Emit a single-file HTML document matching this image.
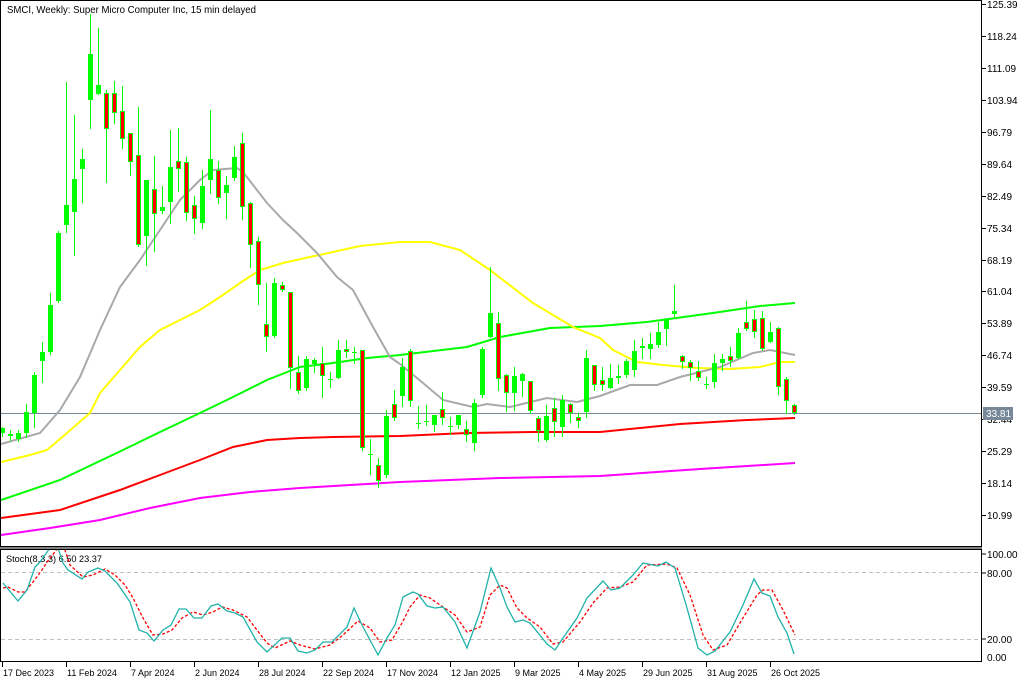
<!DOCTYPE html>
<html><head><meta charset="utf-8"><style>
html,body{margin:0;padding:0;background:#fff;}
svg{display:block;font-family:"Liberation Sans","DejaVu Sans",sans-serif;}
</style></head><body>
<svg id="s" width="1024" height="683" xmlns="http://www.w3.org/2000/svg">
<rect width="1024" height="683" fill="#fff"/>
<defs>
<clipPath id="mc"><rect x="1" y="1" width="980" height="545"/></clipPath>
<clipPath id="sc"><rect x="1" y="550" width="980" height="111"/></clipPath>
</defs>
<rect x="0.5" y="0.5" width="981" height="546" fill="none" stroke="#000"/>
<rect x="0.5" y="549.5" width="981" height="112" fill="none" stroke="#000"/>
<line x1="0" y1="548" x2="982" y2="548" stroke="#000"/>
<text x="7" y="13" font-size="10.5" fill="#000" textLength="249" lengthAdjust="spacingAndGlyphs">SMCI, Weekly:  Super Micro Computer Inc, 15 min delayed</text>
<g id="axis" font-size="10" fill="#000"></g>
<line x1="1" y1="413.5" x2="981" y2="413.5" stroke="#778899" stroke-width="1"/>
<g clip-path="url(#mc)" fill="none" stroke-width="2">
<polyline stroke="#ff00ff" points="1,535 50,528 100,520 150,508 200,498 250,492 300,488 400,482 500,478 600,476 700,469 795,463"/>
<polyline stroke="#ff0000" points="1,518 60,510 120,490 160,475 200,460 233,447 267,440 300,438 333,437 400,436 467,433 533,432 600,432 680,424 747,420 795,418"/>
<polyline stroke="#00ff00" points="1,500 60,480 123,450 160,432 200,413 233,397 267,380 300,367 333,363 367,358 400,355 467,347 500,337 550,328 600,326 647,322 713,313 760,306 795,303"/>
<polyline stroke="#ffff00" points="1,462 30,455 47,450 67,433 90,413 100,393 120,370 140,347 160,330 180,320 200,310 220,297 240,283 260,270 283,263 310,257 333,252 360,246 400,242 430,242 460,250 490,270 533,303 573,327 600,338 613,350 637,362 663,365 697,368 730,369 760,367 780,362 795,362"/>
<polyline stroke="#a9a9a9" points="1,444 40,433 60,410 80,377 100,330 120,287 140,260 160,230 180,200 200,180 213,170 237,168 243,172 267,203 283,220 297,233 317,253 337,277 353,290 373,327 390,357 400,364 423,383 443,400 473,407 487,404 510,407 547,398 577,402 600,396 630,385 657,385 680,377 720,367 753,353 770,350 795,355"/>
<g id="candles"></g>
</g>
<rect x="983" y="407" width="30" height="13" fill="#778899"/>
<text x="986" y="417" font-size="10" fill="#fff">33.81</text>
<text x="6" y="562" font-size="9.5" fill="#000" textLength="96" lengthAdjust="spacingAndGlyphs">Stoch(8,3,3) 6.50 23.37</text>
<line x1="1" y1="572.5" x2="981" y2="572.5" stroke="#c0c0c0" stroke-dasharray="4,3"/>
<line x1="1" y1="639.5" x2="981" y2="639.5" stroke="#c0c0c0" stroke-dasharray="4,3"/>
<g clip-path="url(#sc)" fill="none">
<polyline stroke="#ff0000" stroke-width="1.3" stroke-dasharray="3,2" points="3,588 8,587 18,592 25,592 33,582 42,570 47,562 58,548 65,550 70,565 83,577 93,575 105,569 115,575 125,585 133,598 143,618 153,635 163,634 172,630 182,618 193,612 203,615 213,612 222,607 233,610 247,617 257,630 267,643 275,648 290,641 300,645 315,649 330,645 343,635 358,621 370,628 380,642 392,640 402,623 410,607 420,595 430,598 443,607 455,615 467,632 480,627 490,595 500,585 507,588 517,608 527,618 540,627 553,644 563,642 580,622 593,603 607,588 620,587 633,582 647,565 667,564 677,568 690,595 703,635 713,650 727,645 740,623 757,595 763,590 772,590 783,610 795,635"/>
<polyline stroke="#20b2aa" stroke-width="1.3" points="3,583 18,601 27,590 35,567 40,562 50,548 58,548 63,563 68,570 82,579 88,572 98,568 105,571 117,583 130,602 139,630 147,633 154,641 163,630 171,625 179,609 186,609 194,618 202,618 211,606 218,604 227,611 235,613 243,617 257,642 267,652 282,638 290,638 298,651 307,653 315,650 323,642 332,642 347,627 354,608 362,625 370,640 378,655 387,638 395,625 403,597 413,592 418,594 427,606 435,608 443,607 455,622 467,648 480,612 491,568 500,588 507,607 515,622 523,620 530,623 547,644 555,650 563,638 577,618 587,598 603,581 611,590 620,588 633,575 643,563 658,566 666,562 675,568 687,608 698,648 707,655 715,651 730,632 743,605 754,579 762,593 770,596 778,617 787,633 794,654"/>
</g>
<g font-size="10" fill="#000">
<line x1="982" y1="554" x2="986" y2="554" stroke="#000"/><text x="987" y="558">100.00</text>
<line x1="982" y1="573" x2="986" y2="573" stroke="#000"/><text x="987" y="577">80.00</text>
<line x1="982" y1="639" x2="986" y2="639" stroke="#000"/><text x="987" y="643">20.00</text>
<text x="987" y="661">0.00</text>
</g>
<g id="dates" font-size="9" fill="#000"></g>
</svg>
<script>
var NS="http://www.w3.org/2000/svg";
function el(t,a,p,txt){var e=document.createElementNS(NS,t);for(var k in a)e.setAttribute(k,a[k]);if(txt)e.textContent=txt;p.appendChild(e);return e;}
var ax=document.getElementById('axis');
var labs=["125.39","118.24","111.09","103.94","96.79","89.64","82.49","75.34","68.19","61.04","53.89","46.74","39.59","32.44","25.29","18.14","10.99"];
labs.forEach(function(l,i){var y=Math.round(4+i*31.94);el('line',{x1:982,y1:y+0.5,x2:986,y2:y+0.5,stroke:'#000'},ax);el('text',{x:987,y:y+4},ax,l);});
var d=document.getElementById('dates');
var dl=[[2,"17 Dec 2023"],[66,"11 Feb 2024"],[130,"7 Apr 2024"],[194,"2 Jun 2024"],[258,"28 Jul 2024"],[322,"22 Sep 2024"],[386,"17 Nov 2024"],[450,"12 Jan 2025"],[514,"9 Mar 2025"],[578,"4 May 2025"],[642,"29 Jun 2025"],[706,"31 Aug 2025"],[770,"26 Oct 2025"]];
dl.forEach(function(a){el('line',{x1:a[0]+0.5,y1:662,x2:a[0]+0.5,y2:667,stroke:'#000'},d);el('text',{x:a[0]+1,y:676},d,a[1]);});
var C=[[428,433,427,436,1],[434,436,430,440,0],[433,439,430,441,1],[412,433,404,437,1],[375,413,372,427,1],[352,361,342,382,1],[305,352,293,354,1],[233,301,231,302,1],[205,225,82,232,1],[179,212,115,255,1],[159,169,149,202,1],[54,100,14,128,1],[85,94,28,94,1],[93,129,90,182,0],[93,113,81,123,0],[111,139,86,148,0],[133,162,133,175,0],[155,245,107,246,0],[180,236,180,265,1],[189,214,156,251,0],[207,211,186,213,1],[167,202,130,223,1],[161,169,128,191,0],[162,213,157,220,0],[205,219,196,233,0],
[186,223,170,228,1],[159,180,110,193,1],[170,198,161,203,0],[185,193,176,218,1],[157,178,146,180,1],[143,207,133,219,0],[203,245,202,267,0],[241,285,237,304,0],[324,337,283,351,0],[283,336,278,337,1],[285,290,282,291,0],[292,368,292,388,0],[372,391,356,393,0],[359,388,356,390,1],[360,364,358,372,1],[363,376,347,397,0],[379,380,372,387,1],[350,378,340,378,1],[349,352,340,357,0],[352,353,347,363,1],[350,448,350,450,0],[454,455,439,474,1],[465,481,458,487,0],[416,475,410,477,1],[404,418,390,420,0],
[367,396,358,406,1],[351,401,349,406,0],[423,424,406,428,1],[421,422,405,425,1],[415,425,415,431,1],[409,418,392,424,0],[426,427,417,434,1],[415,425,415,428,1],[429,435,421,441,0],[403,443,399,450,1],[349,395,347,397,1],[313,337,267,337,1],[323,379,312,390,0],[375,393,374,411,0],[376,393,367,410,1],[374,381,373,396,1],[381,411,381,413,0],[418,431,416,441,0],[416,440,405,441,1],[408,422,398,436,0],[400,427,395,436,1],[404,413,403,422,0],[417,421,413,427,0],[358,412,350,417,1],[365,385,365,390,0],
[380,385,367,390,0],[378,388,364,388,1],[376,378,365,383,1],[361,375,359,377,1],[351,370,340,376,1],[346,348,338,358,1],[344,349,333,358,1],[332,345,322,347,1],[320,329,318,345,1],[311,314,285,316,1],[356,362,355,368,0],[362,368,360,380,0],[371,378,361,380,0],[384,385,377,388,1],[363,382,354,387,1],[359,363,354,370,1],[356,361,347,366,0],[333,358,328,358,1],[322,329,301,330,0],[319,332,310,337,0],[318,349,311,350,0],[332,342,322,342,1],[328,387,327,394,0],[379,401,377,413,0],[405,413,404,414,0]];
var g=document.getElementById('candles');
C.forEach(function(c,i){var x=2+8*i;
el('line',{x1:x+0.5,y1:c[2],x2:x+0.5,y2:c[3]+1,stroke:'#00ff00','stroke-width':1},g);
var h=Math.max(c[1]-c[0],1);
if(c[4]) el('rect',{x:x-2,y:c[0],width:5,height:h,fill:'#00ff00',stroke:'none'},g);
else el('rect',{x:x-1.5,y:c[0]+0.5,width:4,height:Math.max(h-1,1),fill:'#ff0000',stroke:'#00ff00','stroke-width':1},g);
});
</script>
</body></html>
